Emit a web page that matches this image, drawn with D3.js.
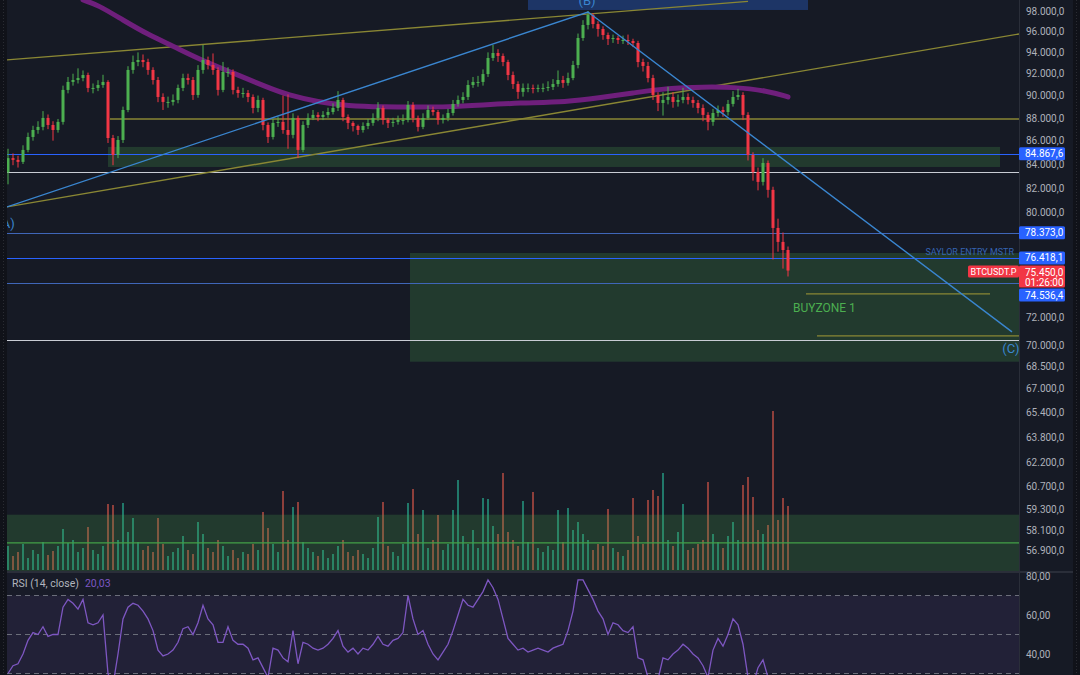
<!DOCTYPE html>
<html>
<head>
<meta charset="utf-8">
<script src="https://cdn.jsdelivr.net/npm/d3@7"></script>
<style>
html, body { margin: 0; padding: 0; background: #161a25; }
svg { display: block; font-family: "Roboto", "Noto Sans", sans-serif; }
</style>
</head>
<body>
<svg id="chart" width="1080" height="675"></svg>
<script>
// ---- data ----
var firstOpen = 83300;
var closes = [84500,84350,84180,85200,86320,86930,87200,87990,87370,86930,
87640,90510,91240,91420,91600,91880,90690,90690,90960,91240,
86230,84770,86060,88700,92350,93090,93280,93090,92350,91420,
89870,89420,89420,89600,90690,91600,91420,90050,92350,93280,
92810,92350,90510,92160,92160,90510,90230,90230,89870,88880,
89600,87370,86320,87550,87640,86930,86500,87990,85200,87370,
87990,88260,88080,88260,88520,88880,89600,88080,87550,87280,
86930,87280,87550,87990,88880,87810,87550,87640,87810,87810,
89150,87990,87200,87990,88700,88520,87810,87990,88430,89240,
89600,89870,90960,91240,91240,91970,93470,93940,93660,93090,
91880,91050,90330,90690,90690,90600,90690,90690,90780,91050,
91420,91150,91600,92810,95370,96630,97610,96720,96240,95660,
95270,95370,95180,95180,95080,94890,93090,92720,91600,90050,
89330,89600,89870,89420,89600,89870,89600,89330,88880,88260,
87640,88430,88700,88520,89240,89870,90050,88260,84770,83330,
82500,84090,81840,78760,77660,77030,75450];
var highs = [85300,84900,84700,85600,86700,87300,87700,88600,88300,87700,
87900,90900,91700,92000,92500,92300,92100,91100,91400,91900,
91400,86500,86400,89000,92700,93700,94000,93800,93400,92600,
91700,90200,89900,90100,91000,92000,92000,91700,92800,94700,
93600,93900,92600,93100,92600,92400,90800,90700,90500,90100,
90000,89800,87600,87900,88100,90000,90100,88400,88200,87700,
88400,88700,88500,88600,88900,89300,90400,89800,88300,87700,
87400,87600,87900,88400,89400,89100,88000,88000,88200,88300,
89500,89400,88200,88400,89100,89000,88700,88300,88800,89600,
90000,90300,91400,91700,91800,92400,94000,94700,94300,93900,
93300,92200,91300,91100,91100,91000,91000,91100,91300,91500,
92300,91800,92100,93200,95800,97100,98000,97800,97000,96500,
95900,95700,95600,95600,95700,95300,95100,93400,93100,91900,
90300,90300,90800,90300,90100,90700,90200,89900,89600,89200,
88500,88800,89100,89000,89600,90400,90600,90300,88500,85000,
83700,84500,84300,82100,79500,78400,77300];
var lows = [82300,83900,83700,84000,85000,86000,86600,86900,87000,86000,
86700,87400,90200,90900,91100,91300,90300,90200,90400,90700,
85800,83900,84500,85800,88500,92000,92700,92600,91900,91000,
89400,88700,88900,89100,89300,90400,91000,89600,89800,92000,
92400,91900,90000,90300,91700,90100,89800,89800,89400,88400,
88500,86900,85800,86100,87200,86600,85300,86200,84500,85000,
87100,87800,87700,87800,88000,88300,88600,87700,87000,86800,
86500,86700,87000,87300,87700,87400,87100,87200,87400,87400,
87600,87600,86800,87000,87800,88200,87400,87500,87700,88200,
89000,89300,89600,90700,90800,90900,91700,93200,93100,92700,
91400,90600,89700,89900,90300,90200,90300,90300,90400,90500,
90800,90700,90900,91400,92500,95100,96200,96300,95500,95200,
94700,94900,94800,94800,94700,94500,92600,92200,91200,89600,
88600,88200,89200,88900,89000,89300,89200,88900,88400,87700,
86900,87300,88100,88100,88200,89000,89600,87800,84300,82600,
81800,82200,81200,76300,76900,75600,75000];
var volumes = [24,14,18,26,12,20,16,28,15,19,
24,41,27,30,18,22,43,20,16,24,
66,65,30,67,38,52,28,20,24,18,
52,26,14,18,22,34,20,16,48,36,
22,18,30,24,14,20,12,18,16,26,
20,58,42,26,18,79,30,63,68,28,
22,18,14,20,12,16,24,30,18,14,
20,16,12,22,53,68,24,18,14,26,
67,81,36,60,22,30,55,20,26,60,
90,34,26,40,22,72,71,44,36,97,
38,30,24,69,28,78,22,18,24,20,
60,28,62,40,48,36,30,20,26,24,
61,22,18,14,20,72,34,26,70,80,
74,97,30,24,38,66,20,22,26,30,
88,36,28,22,34,48,30,85,93,73,
40,36,45,159,50,72,64];
var rsi = [30,34,35,40,47,51,50,54,49,50,
50,64,68,66,63,68,56,55,56,60,
30,24,40,58,64,66,65,62,58,52,
42,39,40,42,46,53,54,50,56,65,
58,55,46,46,54,47,45,45,43,37,
38,33,28,43,42,38,36,52,35,46,
45,43,42,43,45,48,52,44,41,43,
40,43,42,45,49,45,44,47,48,51,
70,58,50,52,45,40,37,41,45,52,
60,68,65,64,68,72,78,74,68,58,
48,45,42,43,41,42,43,42,41,43,
44,45,52,62,78,78,73,68,62,58,
50,56,55,52,51,54,38,37,28,25,
27,38,37,40,42,45,43,40,38,34,
28,42,48,44,50,58,55,45,28,24,
33,37,28,22,21,22,20];

// thick purple moving average (bar index, price)
var maIdx = [15,18,23,28,33,38,45,52,56,62,68,75,82,88,95,102,112,118,125,132,139,145,152,156];
var maVal = [99100,98600,97100,95700,94600,93400,92070,90720,90050,89420,89060,88970,88970,88970,89150,89330,89420,89780,90230,90690,90780,90780,90420,89870];

var priceTicks = [98000,96000,94000,92000,90000,88000,86000,84000,82000,80000,72000,70000,68500,67000,65400,63800,62200,60700,59300,58100,56900];
var rsiTicks = [80,60,40];
var rsiLevels = [70,50,30];

// drawings: bar index / price
var waveLabels = ["(A)", "(B)", "(C)"];
var waveIdx = [-0.2, 116, 200.8];
var wavePrice = [80450, 97900, 70930];

var oliveLines = [
  [[-0.2, 93290], [148, 98950]],
  [[-0.2, 80450], [202.2, 95760]],
  [[20.4, 87900], [202.2, 87900]],
  [[159.6, 73700], [196.4, 73700]],
  [[161.8, 70650], [202.2, 70650]]
];
var levelPrices = [84867.6, 83330, 78373, 76418.1, 74536.4, 70360];
var levelColors = ["#2962ff", "#c9ccd4", "#3f66b8", "#2962ff", "#3f66b8", "#c9ccd4"];
var zones = [
  [20, 198.4, 85460, 83750],
  [80.4, 202.2, 76800, 68830],
  [-0.2, 202.2, 59000, 55000]
];
var volLinePrice = 57350;
var markPrices = [84867.6, 78373, 76418.1, 74536.4];
var lastPrice = 75450;

// ---- setup ----
var svg = d3.select("#chart");
var W = 1080, H = 675;
var left = 7, right = 1019, paneBottom = 571, rsiTop = 573;

var fmtLocale = d3.formatLocale({ decimal: ",", thousands: ".", grouping: [3], currency: ["", ""] });
var fmtPrice = fmtLocale.format(",.1f");
var fmtRsi = fmtLocale.format(".2f");

var x = d3.scaleLinear().domain([0, 156]).range([8, 788]);
var y = d3.scaleLog().domain([98000, 70000]).range([11, 345]);
var vy = d3.scaleLinear().domain([0, 160]).range([570, 410]);
var ry = d3.scaleLinear().domain([80, 40]).range([576, 654]);

svg.append("rect").attr("width", W).attr("height", H).attr("fill", "#161a25");

var defs = svg.append("defs");
defs.append("clipPath").attr("id", "priceClip").append("rect")
  .attr("x", left).attr("y", 0).attr("width", right - left).attr("height", paneBottom);
defs.append("clipPath").attr("id", "rsiClip").append("rect")
  .attr("x", left).attr("y", rsiTop).attr("width", right - left).attr("height", H - rsiTop);

var pane = svg.append("g").attr("clip-path", "url(#priceClip)");

var candles = closes.map(function (c, i) {
  return { i: i, o: i === 0 ? firstOpen : closes[i - 1], c: c, h: highs[i], l: lows[i], v: volumes[i] };
});

// volume bars
pane.append("g").selectAll("rect").data(candles).enter().append("rect")
  .attr("x", function (d) { return x(d.i) - 1; })
  .attr("width", 2)
  .attr("y", function (d) { return vy(d.v); })
  .attr("height", function (d) { return vy(0) - vy(d.v); })
  .attr("fill", function (d) { return d.c >= d.o ? "#21786a" : "#8e3f3b"; });

// zones
pane.append("g").selectAll("rect").data(zones).enter().append("rect")
  .attr("x", function (d) { return x(d[0]); })
  .attr("width", function (d) { return x(d[1]) - x(d[0]); })
  .attr("y", function (d) { return y(d[2]); })
  .attr("height", function (d) { return y(d[3]) - y(d[2]); })
  .attr("fill", "rgba(76,175,80,0.22)");

pane.append("line")
  .attr("x1", left).attr("x2", right)
  .attr("y1", y(volLinePrice)).attr("y2", y(volLinePrice))
  .attr("stroke", "#43a047").attr("stroke-width", 1.3);

// top blue box behind (B)
pane.append("rect")
  .attr("x", x(104)).attr("width", x(160) - x(104))
  .attr("y", y(101000)).attr("height", y(98100) - y(101000))
  .attr("fill", "#1d3566");

// horizontal levels
pane.append("g").selectAll("line").data(levelPrices).enter().append("line")
  .attr("x1", left).attr("x2", right)
  .attr("y1", function (d) { return Math.round(y(d)) + 0.5; })
  .attr("y2", function (d) { return Math.round(y(d)) + 0.5; })
  .attr("stroke", function (d, i) { return levelColors[i]; })
  .attr("stroke-width", function (d, i) { return i === 1 || i === 5 ? 1.2 : 1; });

// olive trend lines
pane.append("g").selectAll("line").data(oliveLines).enter().append("line")
  .attr("x1", function (d) { return x(d[0][0]); })
  .attr("y1", function (d) { return y(d[0][1]); })
  .attr("x2", function (d) { return x(d[1][0]); })
  .attr("y2", function (d) { return y(d[1][1]); })
  .attr("stroke", "#8a8734").attr("stroke-width", 1.4);

// moving average
var maLine = d3.line()
  .x(function (d, k) { return x(maIdx[k]); })
  .y(function (d) { return y(d); })
  .curve(d3.curveBasis);
pane.append("path").datum(maVal)
  .attr("d", maLine)
  .attr("fill", "none")
  .attr("stroke", "#6f1f7c")
  .attr("stroke-width", 5)
  .attr("stroke-linecap", "round");

// candles
var cg = pane.append("g");
cg.selectAll("line").data(candles).enter().append("line")
  .attr("x1", function (d) { return x(d.i); })
  .attr("x2", function (d) { return x(d.i); })
  .attr("y1", function (d) { return y(d.h); })
  .attr("y2", function (d) { return y(d.l); })
  .attr("stroke", function (d) { return d.c >= d.o ? "#4caf50" : "#f23645"; })
  .attr("stroke-width", 1);
cg.selectAll("rect").data(candles).enter().append("rect")
  .attr("x", function (d) { return x(d.i) - 1.5; })
  .attr("width", 3)
  .attr("y", function (d) { return y(Math.max(d.o, d.c)); })
  .attr("height", function (d) { return Math.max(1, Math.abs(y(d.o) - y(d.c))); })
  .attr("fill", function (d) { return d.c >= d.o ? "#4caf50" : "#f23645"; });

// Elliott ABC lines
var waveLine = d3.line()
  .x(function (d, k) { return x(waveIdx[k]); })
  .y(function (d) { return y(d); });
pane.append("path").datum(wavePrice)
  .attr("d", waveLine)
  .attr("fill", "none")
  .attr("stroke", "#3a86d0")
  .attr("stroke-width", 1.4);

pane.append("g").selectAll("text").data(waveLabels).enter().append("text")
  .attr("x", function (d, k) { return x(waveIdx[k]) - 1; })
  .attr("y", function (d, k) { return k === 1 ? y(wavePrice[k]) - 7 : y(wavePrice[k]) + 21; })
  .attr("text-anchor", "middle")
  .attr("font-size", 13)
  .attr("fill", "#3a86d0")
  .text(function (d) { return d; });

pane.append("text")
  .attr("x", 1014).attr("y", y(76418.1) - 3)
  .attr("text-anchor", "end")
  .attr("font-size", 9)
  .attr("fill", "#3563b0")
  .text("SAYLOR ENTRY MSTR");

pane.append("text")
  .attr("x", x(157)).attr("y", y(72400))
  .attr("font-size", 12)
  .attr("fill", "#4caf50")
  .text("BUYZONE 1");

// ---- RSI pane ----
svg.append("rect").attr("x", left).attr("y", rsiTop).attr("width", right - left).attr("height", H - rsiTop)
  .attr("fill", "#181b28");
var rp = svg.append("g").attr("clip-path", "url(#rsiClip)");
rp.append("rect")
  .attr("x", left).attr("width", right - left)
  .attr("y", ry(70)).attr("height", ry(30) - ry(70))
  .attr("fill", "rgba(126,87,194,0.10)");
rp.append("g").selectAll("line").data(rsiLevels).enter().append("line")
  .attr("x1", left).attr("x2", right)
  .attr("y1", function (d) { return ry(d); }).attr("y2", function (d) { return ry(d); })
  .attr("stroke", "#6b6e7a").attr("stroke-dasharray", "5,4").attr("stroke-width", 1);
rp.append("path").datum(rsi)
  .attr("d", d3.line().x(function (d, i) { return x(i); }).y(function (d) { return ry(d); }))
  .attr("fill", "none").attr("stroke", "#7e57c2").attr("stroke-width", 1.3);

var hdr = svg.append("text").attr("x", 12).attr("y", 587).attr("font-size", 10.5);
hdr.append("tspan").attr("fill", "#b2b5be").text("RSI (14, close)");
hdr.append("tspan").attr("dx", 6).attr("fill", "#7e57c2").text(fmtRsi(20.03));

// separators and side strips
svg.append("line").attr("x1", 0).attr("x2", W).attr("y1", 572).attr("y2", 572).attr("stroke", "#2a2e39").attr("stroke-width", 2);
svg.append("line").attr("x1", right + 0.5).attr("x2", right + 0.5).attr("y1", 0).attr("y2", H).attr("stroke", "#2a2e39");
svg.append("rect").attr("x", 0).attr("y", 0).attr("width", left).attr("height", H).attr("fill", "#101219");
svg.append("line").attr("x1", 3.5).attr("x2", 3.5).attr("y1", 0).attr("y2", H).attr("stroke", "#2a2c33").attr("stroke-dasharray", "1,2");
svg.append("rect").attr("x", 1073).attr("y", 0).attr("width", 7).attr("height", H).attr("fill", "#101219");
svg.append("line").attr("x1", 1076.5).attr("x2", 1076.5).attr("y1", 0).attr("y2", H).attr("stroke", "#2a2c33").attr("stroke-dasharray", "1,2");

// ---- axes ----
var yAxis = d3.axisRight(y).tickValues(priceTicks).tickFormat(fmtPrice).tickSize(0).tickPadding(7);
var ya = svg.append("g").attr("transform", "translate(" + right + ",0)").call(yAxis);
ya.select(".domain").remove();
ya.selectAll("text").attr("fill", "#aeb1ba").attr("font-size", 10).attr("font-family", "Roboto, Noto Sans, sans-serif");

var rAxis = d3.axisRight(ry).tickValues(rsiTicks).tickFormat(fmtRsi).tickSize(0).tickPadding(7);
var ra = svg.append("g").attr("transform", "translate(" + right + ",0)").call(rAxis);
ra.select(".domain").remove();
ra.selectAll("text").attr("fill", "#aeb1ba").attr("font-size", 10).attr("font-family", "Roboto, Noto Sans, sans-serif");

// price badges
var badges = markPrices.map(function (p) { return { p: p, c: "#2962ff", lines: [fmtPrice(p)], h: 13 }; });
badges.push({ p: lastPrice, c: "#f23645", lines: [fmtPrice(lastPrice), "01:26:00"], h: 22 });
badges.sort(function (a, b) { return y(a.p) - y(b.p); });
var prevBottom = -100;
badges.forEach(function (b) {
  var top = b.h > 13 ? y(b.p) - 5 : y(b.p) - 6.5;
  if (top < prevBottom + 1) top = prevBottom + 1;
  b.top = top;
  prevBottom = top + b.h;
});
var bg = svg.append("g");
badges.forEach(function (b) {
  bg.append("rect").attr("x", right).attr("y", b.top).attr("width", 46).attr("height", b.h)
    .attr("rx", 1.5).attr("fill", b.c);
  b.lines.forEach(function (t, k) {
    bg.append("text").attr("x", right + 6).attr("y", b.top + 10 + k * 10)
      .attr("font-size", 10).attr("fill", "#ffffff").text(t);
  });
});
var lastB = badges.filter(function (b) { return b.p === lastPrice; })[0];
bg.append("rect").attr("x", 968).attr("y", lastB.top).attr("width", 51).attr("height", 12)
  .attr("rx", 1.5).attr("fill", "#f23645");
bg.append("text").attr("x", 993.5).attr("y", lastB.top + 9.5).attr("text-anchor", "middle")
  .attr("font-size", 9).attr("fill", "#ffffff").text("BTCUSDT.P");
</script>
</body>
</html>
